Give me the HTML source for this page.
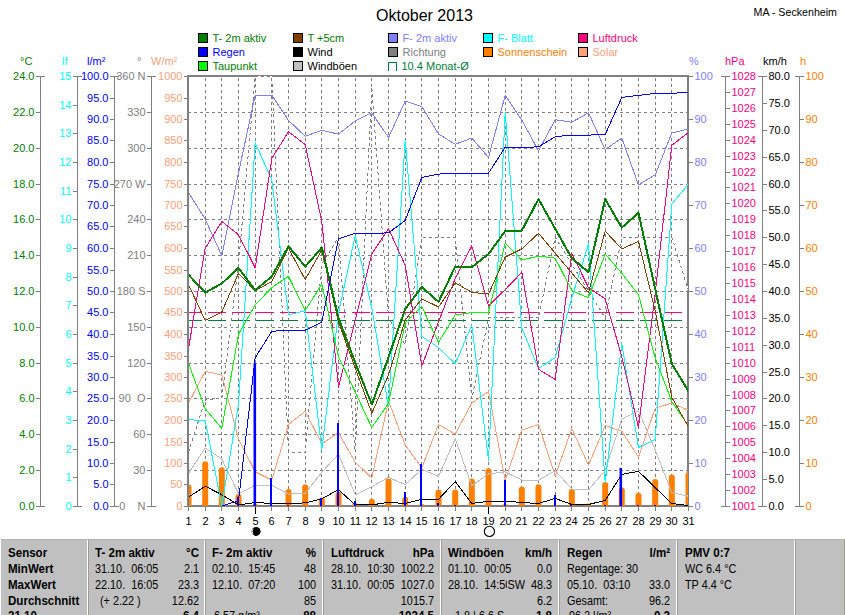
<!DOCTYPE html>
<html lang="de"><head><meta charset="utf-8"><title>Oktober 2013</title>
<style>html,body{margin:0;padding:0;background:#fff;overflow:hidden}body{width:845px;height:615px;position:relative}svg{position:absolute;left:0;top:0;display:block}text{font-family:"Liberation Sans",sans-serif;font-size:11px}.tb{font-weight:bold;font-size:12.1px}.tr{font-size:12.4px}.e{text-anchor:end}.t{font-size:16px}</style></head><body>
<svg width="845" height="615" viewBox="0 0 845 615">
<rect x="0" y="0" width="845" height="615" fill="#ffffff"/>
<path d="M205.5 78.0V506.0M221.5 78.0V506.0M238.5 78.0V506.0M255.5 78.0V506.0M271.5 78.0V506.0M288.5 78.0V506.0M305.5 78.0V506.0M321.5 78.0V506.0M338.5 78.0V506.0M355.5 78.0V506.0M371.5 78.0V506.0M388.5 78.0V506.0M405.5 78.0V506.0M421.5 78.0V506.0M438.5 78.0V506.0M455.5 78.0V506.0M471.5 78.0V506.0M488.5 78.0V506.0M505.5 78.0V506.0M521.5 78.0V506.0M538.5 78.0V506.0M555.5 78.0V506.0M571.5 78.0V506.0M588.5 78.0V506.0M605.5 78.0V506.0M621.5 78.0V506.0M638.5 78.0V506.0M655.5 78.0V506.0M671.5 78.0V506.0M188.0 470.5H688.0M188.0 434.5H688.0M188.0 398.5H688.0M188.0 363.5H688.0M188.0 327.5H688.0M188.0 291.5H688.0M188.0 255.5H688.0M188.0 219.5H688.0M188.0 184.5H688.0M188.0 148.5H688.0M188.0 112.5H688.0" stroke="#808080" stroke-width="1" stroke-dasharray="3 3" fill="none" shape-rendering="crispEdges"/>
<g fill="#808080" shape-rendering="crispEdges">
<rect x="187.0" y="75.0" width="502.0" height="2"/>
<rect x="187.0" y="75.0" width="2" height="432.0"/>
<rect x="687.0" y="75.0" width="2" height="432.0"/>
<rect x="187.0" y="505.0" width="502.0" height="2"/>
</g>
<clipPath id="pc"><rect x="188" y="75" width="501" height="432"/></clipPath>
<g clip-path="url(#pc)">
<path d="M185.5 506V487.6Q185.5 484.6 188.5 484.6Q191.5 484.6 191.5 487.6V506Z" fill="#ff8000"/>
<path d="M202.2 506V464.2Q202.2 461.2 205.2 461.2Q208.2 461.2 208.2 464.2V506Z" fill="#ff8000"/>
<path d="M218.8 506V470.3Q218.8 467.3 221.8 467.3Q224.8 467.3 224.8 470.3V506Z" fill="#ff8000"/>
<path d="M235.5 506V497.1Q235.5 494.1 238.5 494.1Q241.5 494.1 241.5 497.1V506Z" fill="#ff8000"/>
<path d="M252.2 506V506.0Q252.2 504.0 255.2 504.0Q258.2 504.0 258.2 506.0V506Z" fill="#ff8000"/>
<path d="M285.5 506V492.0Q285.5 489.0 288.5 489.0Q291.5 489.0 291.5 492.0V506Z" fill="#ff8000"/>
<path d="M302.2 506V487.2Q302.2 484.2 305.2 484.2Q308.2 484.2 308.2 487.2V506Z" fill="#ff8000"/>
<path d="M318.8 506V500.4Q318.8 497.4 321.8 497.4Q324.8 497.4 324.8 500.4V506Z" fill="#ff8000"/>
<path d="M335.5 506V494.7Q335.5 491.7 338.5 491.7Q341.5 491.7 341.5 494.7V506Z" fill="#ff8000"/>
<path d="M352.2 506V505.9Q352.2 502.9 355.2 502.9Q358.2 502.9 358.2 505.9V506Z" fill="#ff8000"/>
<path d="M368.8 506V501.8Q368.8 498.8 371.8 498.8Q374.8 498.8 374.8 501.8V506Z" fill="#ff8000"/>
<path d="M385.5 506V481.5Q385.5 478.5 388.5 478.5Q391.5 478.5 391.5 481.5V506Z" fill="#ff8000"/>
<path d="M402.2 506V499.8Q402.2 496.8 405.2 496.8Q408.2 496.8 408.2 499.8V506Z" fill="#ff8000"/>
<path d="M418.8 506V506.0Q418.8 504.0 421.8 504.0Q424.8 504.0 424.8 506.0V506Z" fill="#ff8000"/>
<path d="M435.5 506V492.6Q435.5 489.6 438.5 489.6Q441.5 489.6 441.5 492.6V506Z" fill="#ff8000"/>
<path d="M452.2 506V492.6Q452.2 489.6 455.2 489.6Q458.2 489.6 458.2 492.6V506Z" fill="#ff8000"/>
<path d="M468.8 506V481.5Q468.8 478.5 471.8 478.5Q474.8 478.5 474.8 481.5V506Z" fill="#ff8000"/>
<path d="M485.5 506V471.3Q485.5 468.3 488.5 468.3Q491.5 468.3 491.5 471.3V506Z" fill="#ff8000"/>
<path d="M502.2 506V506.0Q502.2 504.0 505.2 504.0Q508.2 504.0 508.2 506.0V506Z" fill="#ff8000"/>
<path d="M518.8 506V489.6Q518.8 486.6 521.8 486.6Q524.8 486.6 524.8 489.6V506Z" fill="#ff8000"/>
<path d="M535.5 506V487.2Q535.5 484.2 538.5 484.2Q541.5 484.2 541.5 487.2V506Z" fill="#ff8000"/>
<path d="M552.2 506V506.0Q552.2 504.9 555.2 504.9Q558.2 504.9 558.2 506.0V506Z" fill="#ff8000"/>
<path d="M568.8 506V492.0Q568.8 489.0 571.8 489.0Q574.8 489.0 574.8 492.0V506Z" fill="#ff8000"/>
<path d="M585.5 506V506.0Q585.5 503.5 588.5 503.5Q591.5 503.5 591.5 506.0V506Z" fill="#ff8000"/>
<path d="M602.2 506V485.1Q602.2 482.1 605.2 482.1Q608.2 482.1 608.2 485.1V506Z" fill="#ff8000"/>
<path d="M618.8 506V490.6Q618.8 487.6 621.8 487.6Q624.8 487.6 624.8 490.6V506Z" fill="#ff8000"/>
<path d="M635.5 506V495.7Q635.5 492.7 638.5 492.7Q641.5 492.7 641.5 495.7V506Z" fill="#ff8000"/>
<path d="M652.2 506V481.9Q652.2 478.9 655.2 478.9Q658.2 478.9 658.2 481.9V506Z" fill="#ff8000"/>
<path d="M668.8 506V477.4Q668.8 474.4 671.8 474.4Q674.8 474.4 674.8 477.4V506Z" fill="#ff8000"/>
<path d="M685.5 506V474.9Q685.5 471.9 688.5 471.9Q691.5 471.9 691.5 474.9V506Z" fill="#ff8000"/>
<polyline points="188.5,452.2 205.2,400.0 221.8,398.5 238.5,264.1 255.2,76.0 271.8,76.0 288.5,452.2 305.2,452.2 321.8,264.1 338.5,237.2 355.2,452.2 371.8,87.3 388.5,317.9 405.2,344.8 421.8,237.2 438.5,237.2 455.2,237.2 471.8,398.5 488.5,317.9 505.2,317.9 521.8,317.9 538.5,317.9 555.2,237.2 571.8,264.1 588.5,291.0 605.2,317.9 621.8,237.2 638.5,237.2 655.2,237.2 671.8,237.2 688.5,291.0" fill="none" stroke="#ffffff" stroke-width="1" stroke-linejoin="round" shape-rendering="crispEdges"/>
<polyline points="188.5,452.2 205.2,400.0 221.8,398.5 238.5,264.1 255.2,76.0 271.8,76.0 288.5,452.2 305.2,452.2 321.8,264.1 338.5,237.2 355.2,452.2 371.8,87.3 388.5,317.9 405.2,344.8 421.8,237.2 438.5,237.2 455.2,237.2 471.8,398.5 488.5,317.9 505.2,317.9 521.8,317.9 538.5,317.9 555.2,237.2 571.8,264.1 588.5,291.0 605.2,317.9 621.8,237.2 638.5,237.2 655.2,237.2 671.8,237.2 688.5,291.0" fill="none" stroke="#808080" stroke-width="1" stroke-linejoin="round" shape-rendering="crispEdges" stroke-dasharray="3 3"/>
<path d="M184.4 320.5H682" stroke="#008040" stroke-width="1" stroke-dasharray="18 6" fill="none" shape-rendering="crispEdges"/>
<path d="M184.4 312.5H682" stroke="#ff0080" stroke-width="1" stroke-dasharray="18 6" fill="none" shape-rendering="crispEdges"/>
<polyline points="188.5,403.1 205.2,371.4 221.8,375.0 238.5,438.8 255.2,471.9 271.8,480.1 288.5,424.5 305.2,411.3 321.8,443.8 338.5,432.7 355.2,462.2 371.8,478.0 388.5,401.1 405.2,444.9 421.8,467.9 438.5,424.5 455.2,434.1 471.8,403.1 488.5,391.7 505.2,480.5 521.8,430.0 538.5,424.5 555.2,476.0 571.8,428.6 588.5,465.2 605.2,425.5 621.8,431.2 638.5,457.1 655.2,408.2 671.8,403.1 688.5,410.3" fill="none" stroke="#ffa07a" stroke-width="1" stroke-linejoin="round" shape-rendering="crispEdges"/>
<polyline points="188.5,473.4 205.2,447.9 221.8,459.1 238.5,493.7 255.2,485.2 271.8,485.2 288.5,494.1 305.2,493.3 321.8,472.3 338.5,454.0 355.2,494.7 371.8,486.6 388.5,477.4 405.2,484.6 421.8,469.3 438.5,476.4 455.2,438.8 471.8,485.6 488.5,474.0 505.2,471.9 521.8,480.0 538.5,480.1 555.2,470.7 571.8,489.0 588.5,490.0 605.2,470.3 621.8,419.0 638.5,410.9 655.2,450.0 671.8,492.7 688.5,496.2" fill="none" stroke="#c0c0c0" stroke-width="1" stroke-linejoin="round" shape-rendering="crispEdges"/>
<polyline points="188.5,497.2 205.2,486.2 221.8,494.7 238.5,504.9 255.2,502.5 271.8,503.5 288.5,503.5 305.2,502.9 321.8,498.8 338.5,489.6 355.2,504.9 371.8,504.9 388.5,502.3 405.2,503.5 421.8,499.4 438.5,499.4 455.2,481.5 471.8,503.5 488.5,501.2 505.2,501.2 521.8,502.5 538.5,503.5 555.2,498.4 571.8,504.5 588.5,504.5 605.2,500.4 621.8,474.4 638.5,471.3 655.2,487.6 671.8,503.5 688.5,505.5" fill="none" stroke="#000000" stroke-width="1" stroke-linejoin="round" shape-rendering="crispEdges"/>
<polyline points="188.5,419.8 205.2,420.4 221.8,506.0 238.5,404.0 255.2,142.8 271.8,180.0 288.5,315.0 305.2,310.6 321.8,449.5 338.5,313.0 355.2,235.7 371.8,308.0 388.5,407.0 405.2,140.2 421.8,336.4 438.5,347.5 455.2,363.8 471.8,325.2 488.5,460.1 505.2,112.7 521.8,328.0 538.5,368.5 555.2,357.7 571.8,298.0 588.5,243.8 605.2,482.5 621.8,343.5 638.5,447.5 655.2,439.4 671.8,204.2 688.5,183.9" fill="none" stroke="#00ffff" stroke-width="1" stroke-linejoin="round" shape-rendering="crispEdges"/>
<polyline points="188.5,192.7 205.2,219.0 221.8,255.7 238.5,173.0 255.2,95.0 271.8,95.0 288.5,120.4 305.2,136.3 321.8,130.2 338.5,134.2 355.2,121.0 371.8,112.7 388.5,137.5 405.2,101.1 421.8,106.6 438.5,134.0 455.2,144.2 471.8,138.1 488.5,157.5 505.2,95.4 521.8,120.0 538.5,150.9 555.2,119.8 571.8,122.2 588.5,112.7 605.2,149.7 621.8,138.1 638.5,184.9 655.2,174.8 671.8,133.0 688.5,129.0" fill="none" stroke="#8080ff" stroke-width="1" stroke-linejoin="round" shape-rendering="crispEdges"/>
<polyline points="188.5,348.6 205.2,248.3 221.8,221.5 238.5,234.7 255.2,267.9 271.8,158.5 288.5,131.6 305.2,144.6 321.8,221.5 338.5,387.2 355.2,320.0 371.8,254.0 388.5,228.6 405.2,265.2 421.8,365.9 438.5,322.0 455.2,278.5 471.8,245.9 488.5,305.9 505.2,289.6 521.8,272.3 538.5,369.3 555.2,379.5 571.8,253.6 588.5,287.6 605.2,298.8 621.8,356.7 638.5,427.5 655.2,293.0 671.8,145.2 688.5,132.6" fill="none" stroke="#ff0080" stroke-width="1" stroke-linejoin="round" shape-rendering="crispEdges"/>
<polyline points="188.5,363.2 205.2,408.6 221.8,428.6 238.5,334.3 255.2,304.9 271.8,287.6 288.5,276.4 305.2,310.6 321.8,284.2 338.5,356.7 355.2,392.0 371.8,427.5 388.5,403.5 405.2,323.1 421.8,306.5 438.5,342.5 455.2,315.0 471.8,312.6 488.5,312.6 505.2,243.4 521.8,260.1 538.5,256.1 555.2,258.1 571.8,290.7 588.5,297.8 605.2,254.0 621.8,273.4 638.5,294.7 655.2,358.0 671.8,401.5 688.5,425.9" fill="none" stroke="#00ff00" stroke-width="1" stroke-linejoin="round" shape-rendering="crispEdges"/>
<polyline points="188.5,284.6 205.2,320.5 221.8,312.0 238.5,273.4 255.2,290.7 271.8,281.5 288.5,248.3 305.2,279.5 321.8,250.0 338.5,322.0 355.2,368.0 371.8,413.3 388.5,375.0 405.2,320.0 421.8,298.8 438.5,307.0 455.2,282.9 471.8,292.3 488.5,294.1 505.2,257.1 521.8,248.9 538.5,233.3 555.2,253.2 571.8,273.0 588.5,292.7 605.2,231.2 621.8,248.9 638.5,241.4 655.2,311.0 671.8,397.4 688.5,426.9" fill="none" stroke="#804000" stroke-width="1" stroke-linejoin="round" shape-rendering="crispEdges"/>
<polyline points="188.5,274.8 205.2,292.7 221.8,283.5 238.5,267.9 255.2,290.3 271.8,276.4 288.5,246.3 305.2,266.6 321.8,247.5 338.5,318.0 355.2,362.7 371.8,404.5 388.5,357.1 405.2,309.0 421.8,287.0 438.5,301.9 455.2,266.6 471.8,267.3 488.5,254.0 505.2,231.0 521.8,230.6 538.5,199.1 555.2,228.8 571.8,258.1 588.5,272.3 605.2,199.1 621.8,227.6 638.5,212.9 655.2,289.0 671.8,363.8 688.5,391.3" fill="none" stroke="#008000" stroke-width="2" stroke-linejoin="round" shape-rendering="crispEdges"/>
<rect x="237" y="496.8" width="2" height="9.2" fill="#0000ff" shape-rendering="crispEdges"/>
<rect x="253.5" y="363.2" width="2.6" height="142.8" fill="#0000ff"/>
<rect x="270" y="478.0" width="2" height="28.0" fill="#0000ff" shape-rendering="crispEdges"/>
<rect x="287" y="504.5" width="2" height="1.5" fill="#0000ff" shape-rendering="crispEdges"/>
<rect x="320" y="497.8" width="2" height="8.2" fill="#0000ff" shape-rendering="crispEdges"/>
<rect x="337" y="423.1" width="2" height="82.9" fill="#0000ff" shape-rendering="crispEdges"/>
<rect x="354" y="500.8" width="2" height="5.2" fill="#0000ff" shape-rendering="crispEdges"/>
<rect x="404" y="492.3" width="2" height="13.7" fill="#0000ff" shape-rendering="crispEdges"/>
<rect x="420" y="464.2" width="2" height="41.8" fill="#0000ff" shape-rendering="crispEdges"/>
<rect x="437" y="502.9" width="2" height="3.1" fill="#0000ff" shape-rendering="crispEdges"/>
<rect x="454" y="504.9" width="2" height="1.1" fill="#0000ff" shape-rendering="crispEdges"/>
<rect x="504" y="480.1" width="2" height="25.9" fill="#0000ff" shape-rendering="crispEdges"/>
<rect x="554" y="494.7" width="2" height="11.3" fill="#0000ff" shape-rendering="crispEdges"/>
<rect x="570" y="504.9" width="2" height="1.1" fill="#0000ff" shape-rendering="crispEdges"/>
<rect x="604" y="504.9" width="2" height="1.1" fill="#0000ff" shape-rendering="crispEdges"/>
<rect x="619.5" y="467.9" width="2.6" height="38.1" fill="#0000ff"/>
<rect x="637" y="504.5" width="2" height="1.5" fill="#0000ff" shape-rendering="crispEdges"/>
<rect x="654" y="504.5" width="2" height="1.5" fill="#0000ff" shape-rendering="crispEdges"/>
<polyline points="221.8,506.0 238.5,500.8 255.2,357.7 271.8,331.3 288.5,330.2 305.2,330.2 321.8,322.1 338.5,238.8 355.2,233.3 371.8,233.3 388.5,232.9 405.2,220.4 421.8,177.4 438.5,174.1 455.2,173.3 471.8,173.3 488.5,173.1 505.2,147.3 521.8,147.3 538.5,146.9 555.2,136.7 571.8,135.1 588.5,135.1 605.2,134.5 621.8,97.4 638.5,95.4 655.2,93.3 671.8,93.3 688.5,92.3" fill="none" stroke="#0000ff" stroke-width="1" stroke-linejoin="round" shape-rendering="crispEdges"/>
</g>
<path d="M40.5 76.0V507.0M36 506.5H45M36 470.5H41M36 434.5H41M36 398.5H41M36 363.5H41M36 327.5H41M36 291.5H41M36 255.5H41M36 219.5H41M36 184.5H41M36 148.5H41M36 112.5H41M36 76.5H45" stroke="#808080" stroke-width="1" fill="none" shape-rendering="crispEdges"/>
<text class="e" x="34.5" y="510.0" fill="#008000" xml:space="preserve">0.0</text><text class="e" x="34.5" y="474.0" fill="#008000" xml:space="preserve">2.0</text><text class="e" x="34.5" y="438.0" fill="#008000" xml:space="preserve">4.0</text><text class="e" x="34.5" y="402.0" fill="#008000" xml:space="preserve">6.0</text><text class="e" x="34.5" y="367.0" fill="#008000" xml:space="preserve">8.0</text><text class="e" x="34.5" y="331.0" fill="#008000" xml:space="preserve">10.0</text><text class="e" x="34.5" y="295.0" fill="#008000" xml:space="preserve">12.0</text><text class="e" x="34.5" y="259.0" fill="#008000" xml:space="preserve">14.0</text><text class="e" x="34.5" y="223.0" fill="#008000" xml:space="preserve">16.0</text><text class="e" x="34.5" y="188.0" fill="#008000" xml:space="preserve">18.0</text><text class="e" x="34.5" y="152.0" fill="#008000" xml:space="preserve">20.0</text><text class="e" x="34.5" y="116.0" fill="#008000" xml:space="preserve">22.0</text><text class="e" x="34.5" y="80.0" fill="#008000" xml:space="preserve">24.0</text>
<text x="20" y="65" fill="#008000">°C</text>
<path d="M77.5 76.0V507.0M73 506.5H82M73 477.5H78M73 449.5H78M73 420.5H78M73 391.5H78M73 363.5H78M73 334.5H78M73 305.5H78M73 277.5H78M73 248.5H78M73 219.5H78M73 191.5H78M73 162.5H78M73 133.5H78M73 105.5H78M73 76.5H82" stroke="#808080" stroke-width="1" fill="none" shape-rendering="crispEdges"/>
<text class="e" x="71.5" y="510.0" fill="#00ffff" xml:space="preserve">0</text><text class="e" x="71.5" y="481.0" fill="#00ffff" xml:space="preserve">1</text><text class="e" x="71.5" y="453.0" fill="#00ffff" xml:space="preserve">2</text><text class="e" x="71.5" y="424.0" fill="#00ffff" xml:space="preserve">3</text><text class="e" x="71.5" y="395.0" fill="#00ffff" xml:space="preserve">4</text><text class="e" x="71.5" y="367.0" fill="#00ffff" xml:space="preserve">5</text><text class="e" x="71.5" y="338.0" fill="#00ffff" xml:space="preserve">6</text><text class="e" x="71.5" y="309.0" fill="#00ffff" xml:space="preserve">7</text><text class="e" x="71.5" y="281.0" fill="#00ffff" xml:space="preserve">8</text><text class="e" x="71.5" y="252.0" fill="#00ffff" xml:space="preserve">9</text><text class="e" x="71.5" y="223.0" fill="#00ffff" xml:space="preserve">10</text><text class="e" x="71.5" y="195.0" fill="#00ffff" xml:space="preserve">11</text><text class="e" x="71.5" y="166.0" fill="#00ffff" xml:space="preserve">12</text><text class="e" x="71.5" y="137.0" fill="#00ffff" xml:space="preserve">13</text><text class="e" x="71.5" y="109.0" fill="#00ffff" xml:space="preserve">14</text><text class="e" x="71.5" y="80.0" fill="#00ffff" xml:space="preserve">15</text>
<text x="62" y="65" fill="#00ffff">lf</text>
<path d="M114.5 76.0V507.0M110 506.5H119M110 484.5H115M110 463.5H115M110 442.5H115M110 420.5H115M110 398.5H115M110 377.5H115M110 356.5H115M110 334.5H115M110 312.5H115M110 291.5H115M110 270.5H115M110 248.5H115M110 226.5H115M110 205.5H115M110 184.5H115M110 162.5H115M110 140.5H115M110 119.5H115M110 98.5H115M110 76.5H119" stroke="#808080" stroke-width="1" fill="none" shape-rendering="crispEdges"/>
<text class="e" x="108.5" y="510.0" fill="#0000ff" xml:space="preserve">0.0</text><text class="e" x="108.5" y="488.0" fill="#0000ff" xml:space="preserve">5.0</text><text class="e" x="108.5" y="467.0" fill="#0000ff" xml:space="preserve">10.0</text><text class="e" x="108.5" y="446.0" fill="#0000ff" xml:space="preserve">15.0</text><text class="e" x="108.5" y="424.0" fill="#0000ff" xml:space="preserve">20.0</text><text class="e" x="108.5" y="402.0" fill="#0000ff" xml:space="preserve">25.0</text><text class="e" x="108.5" y="381.0" fill="#0000ff" xml:space="preserve">30.0</text><text class="e" x="108.5" y="360.0" fill="#0000ff" xml:space="preserve">35.0</text><text class="e" x="108.5" y="338.0" fill="#0000ff" xml:space="preserve">40.0</text><text class="e" x="108.5" y="316.0" fill="#0000ff" xml:space="preserve">45.0</text><text class="e" x="108.5" y="295.0" fill="#0000ff" xml:space="preserve">50.0</text><text class="e" x="108.5" y="274.0" fill="#0000ff" xml:space="preserve">55.0</text><text class="e" x="108.5" y="252.0" fill="#0000ff" xml:space="preserve">60.0</text><text class="e" x="108.5" y="230.0" fill="#0000ff" xml:space="preserve">65.0</text><text class="e" x="108.5" y="209.0" fill="#0000ff" xml:space="preserve">70.0</text><text class="e" x="108.5" y="188.0" fill="#0000ff" xml:space="preserve">75.0</text><text class="e" x="108.5" y="166.0" fill="#0000ff" xml:space="preserve">80.0</text><text class="e" x="108.5" y="144.0" fill="#0000ff" xml:space="preserve">85.0</text><text class="e" x="108.5" y="123.0" fill="#0000ff" xml:space="preserve">90.0</text><text class="e" x="108.5" y="102.0" fill="#0000ff" xml:space="preserve">95.0</text><text class="e" x="108.5" y="80.0" fill="#0000ff" xml:space="preserve">100.0</text>
<text x="87" y="65" fill="#0000ff">l/m²</text>
<path d="M151.5 76.0V507.0M147 506.5H156M147 470.5H152M147 434.5H152M147 398.5H152M147 363.5H152M147 327.5H152M147 291.5H152M147 255.5H152M147 219.5H152M147 184.5H152M147 148.5H152M147 112.5H152M147 76.5H156" stroke="#808080" stroke-width="1" fill="none" shape-rendering="crispEdges"/>
<text class="e" x="145.5" y="510.0" fill="#808080" xml:space="preserve">0    N</text><text class="e" x="145.5" y="474.0" fill="#808080" xml:space="preserve">30</text><text class="e" x="145.5" y="438.0" fill="#808080" xml:space="preserve">60</text><text class="e" x="145.5" y="402.0" fill="#808080" xml:space="preserve">90  O</text><text class="e" x="145.5" y="367.0" fill="#808080" xml:space="preserve">120</text><text class="e" x="145.5" y="331.0" fill="#808080" xml:space="preserve">150</text><text class="e" x="145.5" y="295.0" fill="#808080" xml:space="preserve">180 S</text><text class="e" x="145.5" y="259.0" fill="#808080" xml:space="preserve">210</text><text class="e" x="145.5" y="223.0" fill="#808080" xml:space="preserve">240</text><text class="e" x="145.5" y="188.0" fill="#808080" xml:space="preserve">270 W</text><text class="e" x="145.5" y="152.0" fill="#808080" xml:space="preserve">300</text><text class="e" x="145.5" y="116.0" fill="#808080" xml:space="preserve">330</text><text class="e" x="145.5" y="80.0" fill="#808080" xml:space="preserve">360 N</text>
<text x="137" y="65" fill="#808080">°</text>
<path d="M188.5 76.0V507.0M184 506.5H193M184 484.5H189M184 463.5H189M184 442.5H189M184 420.5H189M184 398.5H189M184 377.5H189M184 356.5H189M184 334.5H189M184 312.5H189M184 291.5H189M184 270.5H189M184 248.5H189M184 226.5H189M184 205.5H189M184 184.5H189M184 162.5H189M184 140.5H189M184 119.5H189M184 98.5H189M184 76.5H193" stroke="#808080" stroke-width="1" fill="none" shape-rendering="crispEdges"/>
<text class="e" x="182.5" y="510.0" fill="#ffa07a" xml:space="preserve">0</text><text class="e" x="182.5" y="488.0" fill="#ffa07a" xml:space="preserve">50</text><text class="e" x="182.5" y="467.0" fill="#ffa07a" xml:space="preserve">100</text><text class="e" x="182.5" y="446.0" fill="#ffa07a" xml:space="preserve">150</text><text class="e" x="182.5" y="424.0" fill="#ffa07a" xml:space="preserve">200</text><text class="e" x="182.5" y="402.0" fill="#ffa07a" xml:space="preserve">250</text><text class="e" x="182.5" y="381.0" fill="#ffa07a" xml:space="preserve">300</text><text class="e" x="182.5" y="360.0" fill="#ffa07a" xml:space="preserve">350</text><text class="e" x="182.5" y="338.0" fill="#ffa07a" xml:space="preserve">400</text><text class="e" x="182.5" y="316.0" fill="#ffa07a" xml:space="preserve">450</text><text class="e" x="182.5" y="295.0" fill="#ffa07a" xml:space="preserve">500</text><text class="e" x="182.5" y="274.0" fill="#ffa07a" xml:space="preserve">550</text><text class="e" x="182.5" y="252.0" fill="#ffa07a" xml:space="preserve">600</text><text class="e" x="182.5" y="230.0" fill="#ffa07a" xml:space="preserve">650</text><text class="e" x="182.5" y="209.0" fill="#ffa07a" xml:space="preserve">700</text><text class="e" x="182.5" y="188.0" fill="#ffa07a" xml:space="preserve">750</text><text class="e" x="182.5" y="166.0" fill="#ffa07a" xml:space="preserve">800</text><text class="e" x="182.5" y="144.0" fill="#ffa07a" xml:space="preserve">850</text><text class="e" x="182.5" y="123.0" fill="#ffa07a" xml:space="preserve">900</text><text class="e" x="182.5" y="102.0" fill="#ffa07a" xml:space="preserve">950</text><text class="e" x="182.5" y="80.0" fill="#ffa07a" xml:space="preserve">1000</text>
<text x="151" y="65" fill="#ffa07a">W/m²</text>
<path d="M688.5 76.0V507.0M684 506.5H693M688 463.5H693M688 420.5H693M688 377.5H693M688 334.5H693M688 291.5H693M688 248.5H693M688 205.5H693M688 162.5H693M688 119.5H693M684 76.5H693" stroke="#808080" stroke-width="1" fill="none" shape-rendering="crispEdges"/>
<text x="694.5" y="510.0" fill="#8080ff">0</text><text x="694.5" y="467.0" fill="#8080ff">10</text><text x="694.5" y="424.0" fill="#8080ff">20</text><text x="694.5" y="381.0" fill="#8080ff">30</text><text x="694.5" y="338.0" fill="#8080ff">40</text><text x="694.5" y="295.0" fill="#8080ff">50</text><text x="694.5" y="252.0" fill="#8080ff">60</text><text x="694.5" y="209.0" fill="#8080ff">70</text><text x="694.5" y="166.0" fill="#8080ff">80</text><text x="694.5" y="123.0" fill="#8080ff">90</text><text x="694.5" y="80.0" fill="#8080ff">100</text>
<text x="689" y="65" fill="#8080ff">%</text>
<path d="M725.5 76.0V507.0M721 506.5H730M725 490.5H730M725 474.5H730M725 458.5H730M725 442.5H730M725 426.5H730M725 410.5H730M725 395.5H730M725 379.5H730M725 363.5H730M725 347.5H730M725 331.5H730M725 315.5H730M725 299.5H730M725 283.5H730M725 267.5H730M725 251.5H730M725 235.5H730M725 219.5H730M725 203.5H730M725 187.5H730M725 172.5H730M725 156.5H730M725 140.5H730M725 124.5H730M725 108.5H730M725 92.5H730M721 76.5H730" stroke="#808080" stroke-width="1" fill="none" shape-rendering="crispEdges"/>
<text x="731.5" y="510.0" fill="#ff0080">1001</text><text x="731.5" y="494.0" fill="#ff0080">1002</text><text x="731.5" y="478.0" fill="#ff0080">1003</text><text x="731.5" y="462.0" fill="#ff0080">1004</text><text x="731.5" y="446.0" fill="#ff0080">1005</text><text x="731.5" y="430.0" fill="#ff0080">1006</text><text x="731.5" y="414.0" fill="#ff0080">1007</text><text x="731.5" y="399.0" fill="#ff0080">1008</text><text x="731.5" y="383.0" fill="#ff0080">1009</text><text x="731.5" y="367.0" fill="#ff0080">1010</text><text x="731.5" y="351.0" fill="#ff0080">1011</text><text x="731.5" y="335.0" fill="#ff0080">1012</text><text x="731.5" y="319.0" fill="#ff0080">1013</text><text x="731.5" y="303.0" fill="#ff0080">1014</text><text x="731.5" y="287.0" fill="#ff0080">1015</text><text x="731.5" y="271.0" fill="#ff0080">1016</text><text x="731.5" y="255.0" fill="#ff0080">1017</text><text x="731.5" y="239.0" fill="#ff0080">1018</text><text x="731.5" y="223.0" fill="#ff0080">1019</text><text x="731.5" y="207.0" fill="#ff0080">1020</text><text x="731.5" y="191.0" fill="#ff0080">1021</text><text x="731.5" y="176.0" fill="#ff0080">1022</text><text x="731.5" y="160.0" fill="#ff0080">1023</text><text x="731.5" y="144.0" fill="#ff0080">1024</text><text x="731.5" y="128.0" fill="#ff0080">1025</text><text x="731.5" y="112.0" fill="#ff0080">1026</text><text x="731.5" y="96.0" fill="#ff0080">1027</text><text x="731.5" y="80.0" fill="#ff0080">1028</text>
<text x="725" y="65" fill="#ff0080">hPa</text>
<path d="M762.5 76.0V507.0M758 506.5H767M762 479.5H767M762 452.5H767M762 425.5H767M762 398.5H767M762 372.5H767M762 345.5H767M762 318.5H767M762 291.5H767M762 264.5H767M762 237.5H767M762 210.5H767M762 184.5H767M762 157.5H767M762 130.5H767M762 103.5H767M758 76.5H767" stroke="#808080" stroke-width="1" fill="none" shape-rendering="crispEdges"/>
<text x="768.5" y="510.0" fill="#000000">0.0</text><text x="768.5" y="483.0" fill="#000000">5.0</text><text x="768.5" y="456.0" fill="#000000">10.0</text><text x="768.5" y="429.0" fill="#000000">15.0</text><text x="768.5" y="402.0" fill="#000000">20.0</text><text x="768.5" y="376.0" fill="#000000">25.0</text><text x="768.5" y="349.0" fill="#000000">30.0</text><text x="768.5" y="322.0" fill="#000000">35.0</text><text x="768.5" y="295.0" fill="#000000">40.0</text><text x="768.5" y="268.0" fill="#000000">45.0</text><text x="768.5" y="241.0" fill="#000000">50.0</text><text x="768.5" y="214.0" fill="#000000">55.0</text><text x="768.5" y="188.0" fill="#000000">60.0</text><text x="768.5" y="161.0" fill="#000000">65.0</text><text x="768.5" y="134.0" fill="#000000">70.0</text><text x="768.5" y="107.0" fill="#000000">75.0</text><text x="768.5" y="80.0" fill="#000000">80.0</text>
<text x="763" y="65" fill="#000000">km/h</text>
<path d="M799.5 76.0V507.0M795 506.5H804M799 463.5H804M799 420.5H804M799 377.5H804M799 334.5H804M799 291.5H804M799 248.5H804M799 205.5H804M799 162.5H804M799 119.5H804M795 76.5H804" stroke="#808080" stroke-width="1" fill="none" shape-rendering="crispEdges"/>
<text x="805.5" y="510.0" fill="#ff8000">0</text><text x="805.5" y="467.0" fill="#ff8000">10</text><text x="805.5" y="424.0" fill="#ff8000">20</text><text x="805.5" y="381.0" fill="#ff8000">30</text><text x="805.5" y="338.0" fill="#ff8000">40</text><text x="805.5" y="295.0" fill="#ff8000">50</text><text x="805.5" y="252.0" fill="#ff8000">60</text><text x="805.5" y="209.0" fill="#ff8000">70</text><text x="805.5" y="166.0" fill="#ff8000">80</text><text x="805.5" y="123.0" fill="#ff8000">90</text><text x="805.5" y="80.0" fill="#ff8000">100</text>
<text x="800" y="65" fill="#ff8000">h</text>
<path d="M188.5 507.0V511.0M205.5 507.0V511.0M221.5 507.0V511.0M238.5 507.0V511.0M255.5 507.0V511.0M271.5 507.0V511.0M288.5 507.0V511.0M305.5 507.0V511.0M321.5 507.0V511.0M338.5 507.0V511.0M355.5 507.0V511.0M371.5 507.0V511.0M388.5 507.0V511.0M405.5 507.0V511.0M421.5 507.0V511.0M438.5 507.0V511.0M455.5 507.0V511.0M471.5 507.0V511.0M488.5 507.0V511.0M505.5 507.0V511.0M521.5 507.0V511.0M538.5 507.0V511.0M555.5 507.0V511.0M571.5 507.0V511.0M588.5 507.0V511.0M605.5 507.0V511.0M621.5 507.0V511.0M638.5 507.0V511.0M655.5 507.0V511.0M671.5 507.0V511.0M688.5 507.0V511.0" stroke="#808080" stroke-width="1" fill="none" shape-rendering="crispEdges"/>
<text x="188.5" y="525" text-anchor="middle" fill="#000">1</text><text x="205.5" y="525" text-anchor="middle" fill="#000">2</text><text x="221.5" y="525" text-anchor="middle" fill="#000">3</text><text x="238.5" y="525" text-anchor="middle" fill="#000">4</text><text x="255.5" y="525" text-anchor="middle" fill="#000">5</text><text x="271.5" y="525" text-anchor="middle" fill="#000">6</text><text x="288.5" y="525" text-anchor="middle" fill="#000">7</text><text x="305.5" y="525" text-anchor="middle" fill="#000">8</text><text x="321.5" y="525" text-anchor="middle" fill="#000">9</text><text x="338.5" y="525" text-anchor="middle" fill="#000">10</text><text x="355.5" y="525" text-anchor="middle" fill="#000">11</text><text x="371.5" y="525" text-anchor="middle" fill="#000">12</text><text x="388.5" y="525" text-anchor="middle" fill="#000">13</text><text x="405.5" y="525" text-anchor="middle" fill="#000">14</text><text x="421.5" y="525" text-anchor="middle" fill="#000">15</text><text x="438.5" y="525" text-anchor="middle" fill="#000">16</text><text x="455.5" y="525" text-anchor="middle" fill="#000">17</text><text x="471.5" y="525" text-anchor="middle" fill="#000">18</text><text x="488.5" y="525" text-anchor="middle" fill="#000">19</text><text x="505.5" y="525" text-anchor="middle" fill="#000">20</text><text x="521.5" y="525" text-anchor="middle" fill="#000">21</text><text x="538.5" y="525" text-anchor="middle" fill="#000">22</text><text x="555.5" y="525" text-anchor="middle" fill="#000">23</text><text x="571.5" y="525" text-anchor="middle" fill="#000">24</text><text x="588.5" y="525" text-anchor="middle" fill="#000">25</text><text x="605.5" y="525" text-anchor="middle" fill="#000">26</text><text x="621.5" y="525" text-anchor="middle" fill="#000">27</text><text x="638.5" y="525" text-anchor="middle" fill="#000">28</text><text x="655.5" y="525" text-anchor="middle" fill="#000">29</text><text x="671.5" y="525" text-anchor="middle" fill="#000">30</text><text x="688.5" y="525" text-anchor="middle" fill="#000">31</text>
<path d="M255.5 507.0V514.0" stroke="#000" stroke-width="1" fill="none" shape-rendering="crispEdges"/>
<path d="M488.5 507.0V514.0" stroke="#000" stroke-width="1" fill="none" shape-rendering="crispEdges"/>
<circle cx="256.1" cy="531.4" r="4.5" fill="#000"/>
<path d="M253.0 528.6Q251.6 531.5 253.0 534.4" stroke="#fff" stroke-width="0.9" fill="none"/>
<circle cx="489.4" cy="531.4" r="5.1" fill="#fff" stroke="#000" stroke-width="1.1"/>
<text class="t" x="376" y="21" fill="#000">Oktober 2013</text>
<text x="753.5" y="15.5" fill="#000" textLength="83.5" lengthAdjust="spacingAndGlyphs">MA - Seckenheim</text>
<rect x="198.5" y="33.5" width="9" height="9" fill="#008000" stroke="#000" stroke-width="1" shape-rendering="crispEdges"/>
<text x="212.5" y="42" fill="#008000">T- 2m aktiv</text>
<rect x="198.5" y="47.5" width="9" height="9" fill="#0000ff" stroke="#000" stroke-width="1" shape-rendering="crispEdges"/>
<text x="212.5" y="56" fill="#0000ff">Regen</text>
<rect x="198.5" y="61.5" width="9" height="9" fill="#00ff00" stroke="#000" stroke-width="1" shape-rendering="crispEdges"/>
<text x="212.5" y="70" fill="#008000">Taupunkt</text>
<rect x="293.5" y="33.5" width="9" height="9" fill="#804000" stroke="#000" stroke-width="1" shape-rendering="crispEdges"/>
<text x="307.5" y="42" fill="#008000">T +5cm</text>
<rect x="293.5" y="47.5" width="9" height="9" fill="#000000" stroke="#000" stroke-width="1" shape-rendering="crispEdges"/>
<text x="307.5" y="56" fill="#000000">Wind</text>
<rect x="293.5" y="61.5" width="9" height="9" fill="#c0c0c0" stroke="#000" stroke-width="1" shape-rendering="crispEdges"/>
<text x="307.5" y="70" fill="#000000">Windböen</text>
<rect x="388.5" y="33.5" width="9" height="9" fill="#8080ff" stroke="#000" stroke-width="1" shape-rendering="crispEdges"/>
<text x="402.5" y="42" fill="#8080ff">F- 2m aktiv</text>
<rect x="388.5" y="47.5" width="9" height="9" fill="#808080" stroke="#000" stroke-width="1" shape-rendering="crispEdges"/>
<text x="402.5" y="56" fill="#808080">Richtung</text>
<path d="M388.5 71V62.5H396.5V71" fill="none" stroke="#008040" stroke-width="1" shape-rendering="crispEdges"/>
<text x="401.5" y="70" fill="#008040">10.4 Monat-Ø</text>
<rect x="483.5" y="33.5" width="9" height="9" fill="#00ffff" stroke="#000" stroke-width="1" shape-rendering="crispEdges"/>
<text x="497.5" y="42" fill="#00ffff">F- Blatt</text>
<rect x="483.5" y="47.5" width="9" height="9" fill="#ff8000" stroke="#000" stroke-width="1" shape-rendering="crispEdges"/>
<text x="497.5" y="56" fill="#ff8000">Sonnenschein</text>
<rect x="578.5" y="33.5" width="9" height="9" fill="#ff0080" stroke="#000" stroke-width="1" shape-rendering="crispEdges"/>
<text x="592.5" y="42" fill="#ff0080">Luftdruck</text>
<rect x="578.5" y="47.5" width="9" height="9" fill="#ffa07a" stroke="#000" stroke-width="1" shape-rendering="crispEdges"/>
<text x="592.5" y="56" fill="#ffa07a">Solar</text>
<rect x="0" y="539" width="845" height="76" fill="#c0c0c0"/>
<path d="M87.5 539V615M204.5 539V615M322.5 539V615M440.5 539V615M558.5 539V615M676.5 539V615M794.5 539V615" stroke="#ffffff" stroke-width="1" fill="none" shape-rendering="crispEdges"/>
<path d="M88.5 539V615M205.5 539V615M323.5 539V615M441.5 539V615M559.5 539V615M677.5 539V615M795.5 539V615M844.5 539V615" stroke="#9c9c90" stroke-width="1" fill="none" shape-rendering="crispEdges"/>
<path d="M0.5 539V615" stroke="#ffffff" stroke-width="1" fill="none" shape-rendering="crispEdges"/>
<path d="M1 539.5H844" stroke="#b4b4b4" stroke-width="1" fill="none" shape-rendering="crispEdges"/>
<text class="tb" transform="translate(8,556.5) scale(0.955,1)" fill="#000" xml:space="preserve">Sensor</text>
<text class="tb" transform="translate(8,573) scale(0.955,1)" fill="#000" xml:space="preserve">MinWert</text>
<text class="tb" transform="translate(8,589) scale(0.955,1)" fill="#000" xml:space="preserve">MaxWert</text>
<text class="tb" transform="translate(8,604.5) scale(0.955,1)" fill="#000" xml:space="preserve">Durchschnitt</text>
<text class="tb" transform="translate(8,620) scale(0.955,1)" fill="#000" xml:space="preserve">31.10.</text>
<text class="tb" transform="translate(95,556.5) scale(0.955,1)" fill="#000" xml:space="preserve">T- 2m aktiv</text>
<text class="tb e" transform="translate(199,556.5) scale(0.955,1)" fill="#000" xml:space="preserve">°C</text>
<text class="tr" transform="translate(95,573) scale(0.875,1)" fill="#000" xml:space="preserve">31.10.  06:05</text>
<text class="tr e" transform="translate(199,573) scale(0.875,1)" fill="#000" xml:space="preserve">2.1</text>
<text class="tr" transform="translate(95,589) scale(0.875,1)" fill="#000" xml:space="preserve">22.10.  16:05</text>
<text class="tr e" transform="translate(199,589) scale(0.875,1)" fill="#000" xml:space="preserve">23.3</text>
<text class="tr" transform="translate(100,604.5) scale(0.875,1)" fill="#000" xml:space="preserve">(+ 2.22 )</text>
<text class="tr e" transform="translate(199,604.5) scale(0.875,1)" fill="#000" xml:space="preserve">12.62</text>
<text class="tb e" transform="translate(199,620) scale(0.955,1)" fill="#000" xml:space="preserve">6.4</text>
<text class="tb" transform="translate(212,556.5) scale(0.955,1)" fill="#000" xml:space="preserve">F- 2m aktiv</text>
<text class="tb e" transform="translate(316,556.5) scale(0.955,1)" fill="#000" xml:space="preserve">%</text>
<text class="tr" transform="translate(212,573) scale(0.875,1)" fill="#000" xml:space="preserve">02.10.  15:45</text>
<text class="tr e" transform="translate(316,573) scale(0.875,1)" fill="#000" xml:space="preserve">48</text>
<text class="tr" transform="translate(212,589) scale(0.875,1)" fill="#000" xml:space="preserve">12.10.  07:20</text>
<text class="tr e" transform="translate(316,589) scale(0.875,1)" fill="#000" xml:space="preserve">100</text>
<text class="tr e" transform="translate(316,604.5) scale(0.875,1)" fill="#000" xml:space="preserve">85</text>
<text class="tr" transform="translate(214,620) scale(0.875,1)" fill="#000" xml:space="preserve">6.57 g/m³</text>
<text class="tb e" transform="translate(316,620) scale(0.955,1)" fill="#000" xml:space="preserve">88</text>
<text class="tb" transform="translate(331,556.5) scale(0.955,1)" fill="#000" xml:space="preserve">Luftdruck</text>
<text class="tb e" transform="translate(434,556.5) scale(0.955,1)" fill="#000" xml:space="preserve">hPa</text>
<text class="tr" transform="translate(331,573) scale(0.875,1)" fill="#000" xml:space="preserve">28.10.  10:30</text>
<text class="tr e" transform="translate(434,573) scale(0.875,1)" fill="#000" xml:space="preserve">1002.2</text>
<text class="tr" transform="translate(331,589) scale(0.875,1)" fill="#000" xml:space="preserve">31.10.  00:05</text>
<text class="tr e" transform="translate(434,589) scale(0.875,1)" fill="#000" xml:space="preserve">1027.0</text>
<text class="tr e" transform="translate(434,604.5) scale(0.875,1)" fill="#000" xml:space="preserve">1015.7</text>
<text class="tb e" transform="translate(434,620) scale(0.955,1)" fill="#000" xml:space="preserve">1024.5</text>
<text class="tb" transform="translate(448,556.5) scale(0.955,1)" fill="#000" xml:space="preserve">Windböen</text>
<text class="tb e" transform="translate(552,556.5) scale(0.955,1)" fill="#000" xml:space="preserve">km/h</text>
<text class="tr" transform="translate(448,573) scale(0.875,1)" fill="#000" xml:space="preserve">01.10.  00:05</text>
<text class="tr e" transform="translate(552,573) scale(0.875,1)" fill="#000" xml:space="preserve">0.0</text>
<clipPath id="c5"><rect x="441" y="575" width="66" height="20"/></clipPath><g clip-path="url(#c5)">
<text class="tr" transform="translate(448,589) scale(0.875,1)" fill="#000" xml:space="preserve">28.10.  14:50</text>
</g>
<text class="tr e" transform="translate(552,589) scale(0.875,1)" fill="#000" xml:space="preserve">SW  48.3</text>
<text class="tr e" transform="translate(552,604.5) scale(0.875,1)" fill="#000" xml:space="preserve">6.2</text>
<text class="tr" transform="translate(455,620) scale(0.875,1)" fill="#000" xml:space="preserve">1.8 | 6.6 S</text>
<text class="tb e" transform="translate(552,620) scale(0.955,1)" fill="#000" xml:space="preserve">1.8</text>
<text class="tb" transform="translate(567,556.5) scale(0.955,1)" fill="#000" xml:space="preserve">Regen</text>
<text class="tb e" transform="translate(670,556.5) scale(0.955,1)" fill="#000" xml:space="preserve">l/m²</text>
<text class="tr" transform="translate(567,573) scale(0.875,1)" fill="#000" xml:space="preserve">Regentage: 30</text>
<text class="tr" transform="translate(567,589) scale(0.875,1)" fill="#000" xml:space="preserve">05.10.  03:10</text>
<text class="tr e" transform="translate(670,589) scale(0.875,1)" fill="#000" xml:space="preserve">33.0</text>
<text class="tr" transform="translate(567,604.5) scale(0.875,1)" fill="#000" xml:space="preserve">Gesamt:</text>
<text class="tr e" transform="translate(670,604.5) scale(0.875,1)" fill="#000" xml:space="preserve">96.2</text>
<text class="tr" transform="translate(569,620) scale(0.875,1)" fill="#000" xml:space="preserve">96.2 l/m²</text>
<text class="tb e" transform="translate(670,620) scale(0.955,1)" fill="#000" xml:space="preserve">0.2</text>
<text class="tb" transform="translate(685,556.5) scale(0.955,1)" fill="#000" xml:space="preserve">PMV 0:7</text>
<text class="tr" transform="translate(685,573) scale(0.875,1)" fill="#000" xml:space="preserve">WC 6.4 °C</text>
<text class="tr" transform="translate(685,589) scale(0.875,1)" fill="#000" xml:space="preserve">TP 4.4 °C</text>
</svg></body></html>
